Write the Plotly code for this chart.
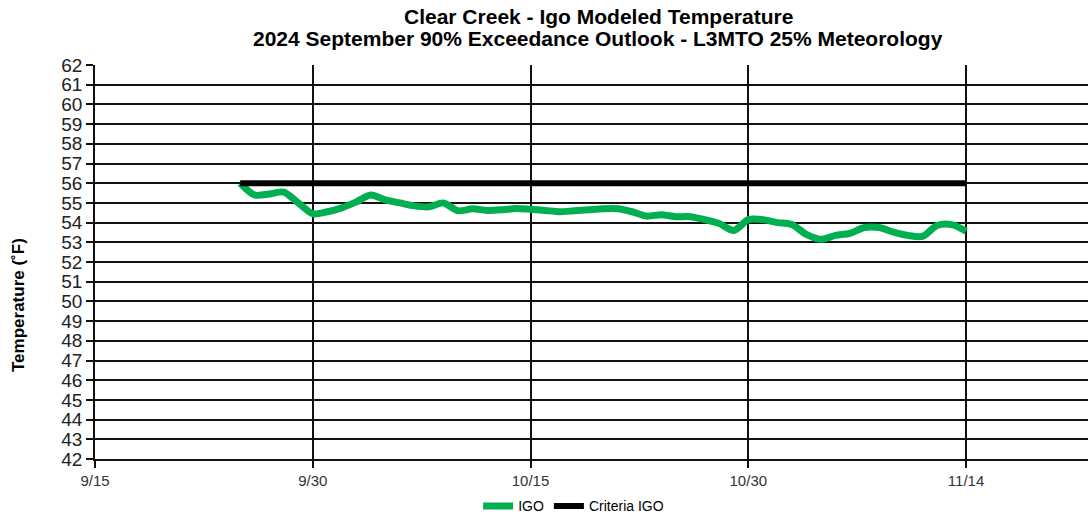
import pandas as pd
import plotly.graph_objects as go

# Data
start_date = "2024-09-25"
igo_temps = [56.0, 55.4, 55.45, 55.55, 55.0, 54.45, 54.55, 54.75, 55.05, 55.4,
             55.15, 55.0, 54.85, 54.8, 55.0, 54.6, 54.7, 54.62, 54.65, 54.72,
             54.68, 54.62, 54.55, 54.6, 54.65, 54.7, 54.7, 54.55, 54.33, 54.4,
             54.3, 54.3, 54.15, 53.95, 53.6, 54.15, 54.15, 54.0, 53.9, 53.4,
             53.15, 53.35, 53.45, 53.75, 53.75, 53.52, 53.35, 53.3, 53.85, 53.9,
             53.57]
criteria_dates = ["2024-09-25", "2024-11-14"]
criteria_vals = [56, 56]
tick_dates = ["2024-09-15", "2024-09-30", "2024-10-15", "2024-10-30", "2024-11-14"]
tick_labels = ["9/15", "9/30", "10/15", "10/30", "11/14"]
y_ticks = list(range(42, 63))
title_line1 = "Clear Creek - Igo Modeled Temperature"
title_line2 = "2024 September 90% Exceedance Outlook - L3MTO 25% Meteorology"

igo_dates = pd.date_range(start_date, periods=len(igo_temps), freq="D")

FONT = "Liberation Sans, Arial, sans-serif"

fig = go.Figure()
fig.add_trace(go.Scatter(x=igo_dates, y=igo_temps, mode="lines", name="IGO",
                         line=dict(color="#00B050", width=7, shape="spline", smoothing=0.8)))
fig.add_trace(go.Scatter(x=pd.to_datetime(criteria_dates), y=criteria_vals, mode="lines",
                         name="Criteria IGO", line=dict(color="#000000", width=6)))

x_end = pd.Timestamp("2024-09-15") + pd.Timedelta(days=68.4)

fig.update_layout(
    width=1088, height=519,
    margin=dict(l=95, r=0, t=65, b=60, autoexpand=False),
    plot_bgcolor="white", paper_bgcolor="white",
    font=dict(family=FONT, color="#000"),
    xaxis=dict(range=[pd.Timestamp("2024-09-15"), x_end],
               tickvals=pd.to_datetime(tick_dates), ticktext=tick_labels,
               showgrid=True, gridcolor="#111", gridwidth=1.5,
               showline=True, linecolor="#111", linewidth=1.5,
               ticks="outside", ticklen=7, tickcolor="#111", tickwidth=1.5,
               tickfont=dict(size=15, family=FONT, color="#333"), zeroline=False),
    yaxis=dict(range=[42, 62], tickvals=y_ticks,
               showgrid=True, gridcolor="#111", gridwidth=1.5,
               showline=True, linecolor="#111", linewidth=1.5,
               ticks="outside", ticklen=7, tickcolor="#111", tickwidth=1.5,
               tickfont=dict(size=19, family=FONT, color="#222"), zeroline=False),
    legend=dict(orientation="h", x=0.482, xanchor="center", y=-0.12, yanchor="middle",
                font=dict(size=14, family=FONT, color="#000"), itemwidth=30,
                bgcolor="rgba(0,0,0,0)"),
    annotations=[
        dict(text="<b>" + title_line1 + "</b>", xref="paper", yref="paper",
             x=(598 - 95) / 993, y=1.0 + (65 - 16) / 394, showarrow=False,
             xanchor="center", yanchor="middle",
             font=dict(size=21, family=FONT, color="#000")),
        dict(text="<b>" + title_line2 + "</b>", xref="paper", yref="paper",
             x=(598 - 95) / 993, y=1.0 + (65 - 39) / 394, showarrow=False,
             xanchor="center", yanchor="middle",
             font=dict(size=21, family=FONT, color="#000")),
        dict(text="<b>Temperature (˚F)</b>", textangle=-90, xref="paper", yref="paper",
             x=-(95 - 18) / 993, y=1.0 - (305 - 65) / 394, showarrow=False,
             xanchor="center", yanchor="middle",
             font=dict(size=17, family=FONT, color="#000")),
    ],
)

fig.write_html("out.html", config={"displayModeBar": False},
               post_script="document.body.style.margin='0px';document.body.style.overflow='hidden';")
